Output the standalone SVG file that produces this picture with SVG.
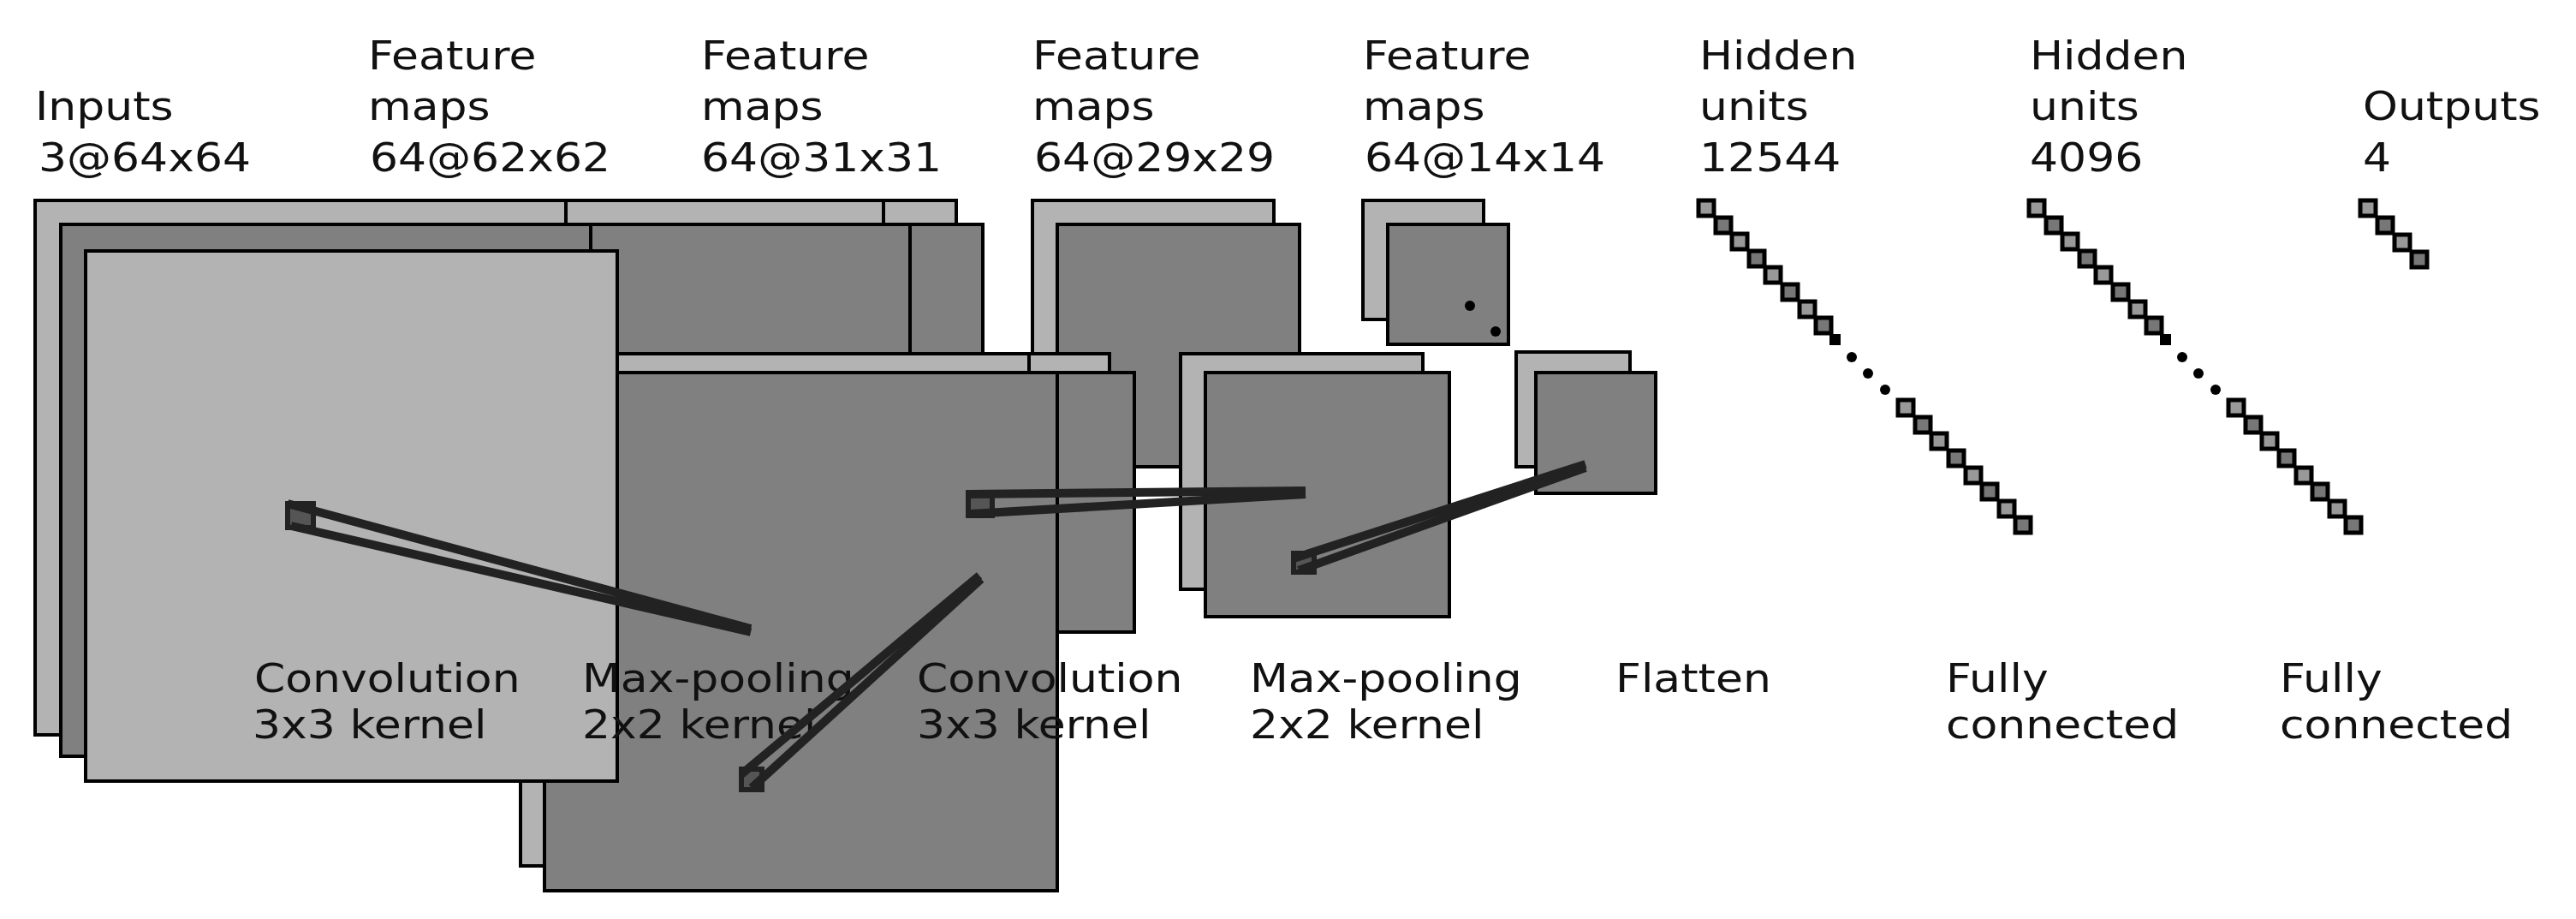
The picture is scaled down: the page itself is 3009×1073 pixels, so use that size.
<svg xmlns="http://www.w3.org/2000/svg" width="3009" height="1073" viewBox="0 0 3009 1073">
<style>
.l{fill:#b3b3b3;stroke:#000;stroke-width:4}
.d{fill:#808080;stroke:#000;stroke-width:4}
.u1{fill:#999;stroke:#000;stroke-width:5}
.u2{fill:#777;stroke:#000;stroke-width:5}
text{font-family:"DejaVu Sans",sans-serif;font-size:52px;fill:#111}
.k{stroke:#222;stroke-width:10;stroke-linecap:butt;fill:none}
.ks{fill:#555;stroke:#222;stroke-width:6}
</style>
<rect width="3009" height="1073" fill="#fff"/>
<g id="fm62">
<rect class="l" x="497" y="234" width="620" height="400"/>
<rect class="d" x="528" y="262" width="620" height="400"/>
<rect class="l" x="412" y="234" width="620" height="400"/>
<rect class="d" x="443" y="262" width="620" height="400"/>
</g>
<g id="fm29top">
<rect class="l" x="1206" y="234" width="282" height="283"/>
<rect class="d" x="1235" y="262" width="283" height="283"/>
</g>
<g id="fm14top">
<rect class="l" x="1592" y="234" width="141" height="139"/>
<rect class="d" x="1621" y="262" width="141" height="140"/>
<circle cx="1717" cy="357" r="6" fill="#000"/>
<circle cx="1747" cy="387" r="6" fill="#000"/>
</g>
<g id="fm31">
<rect class="l" x="1000" y="413" width="296" height="297"/>
<rect class="d" x="1030" y="435" width="295" height="303"/>
<rect class="l" x="608" y="413" width="594" height="598"/>
<rect class="d" x="636" y="435" width="599" height="605"/>
</g>
<g id="fm29low">
<rect class="l" x="1379" y="413" width="283" height="275"/>
<rect class="d" x="1408" y="435" width="285" height="285"/>
</g>
<g id="fm14low">
<rect class="l" x="1771" y="411" width="133" height="134"/>
<rect class="d" x="1794" y="435" width="140" height="141"/>
</g>
<g id="inputs">
<rect class="l" x="41" y="234" width="620" height="624"/>
<rect class="d" x="71" y="262" width="619" height="621"/>
<rect class="l" x="100" y="293" width="621" height="619"/>
</g>
<g id="hidden12544">
<rect class="u1" x="1984" y="234" width="18" height="18"/>
<rect class="u2" x="2004" y="254" width="18" height="18"/>
<rect class="u1" x="2023" y="273" width="18" height="18"/>
<rect class="u2" x="2043" y="293" width="18" height="18"/>
<rect class="u1" x="2062" y="312" width="18" height="18"/>
<rect class="u2" x="2082" y="332" width="18" height="18"/>
<rect class="u1" x="2102" y="352" width="18" height="18"/>
<rect class="u2" x="2121" y="371" width="18" height="18"/>
<rect x="2137" y="390" width="13" height="13" fill="#000"/>
<circle cx="2163" cy="417" r="6" fill="#000"/>
<circle cx="2182" cy="436" r="6" fill="#000"/>
<circle cx="2202" cy="455" r="6" fill="#000"/>
<rect class="u1" x="2217" y="467" width="18" height="18"/>
<rect class="u2" x="2237" y="487" width="18" height="18"/>
<rect class="u1" x="2256" y="506" width="18" height="18"/>
<rect class="u2" x="2276" y="526" width="18" height="18"/>
<rect class="u1" x="2296" y="546" width="18" height="18"/>
<rect class="u2" x="2315" y="565" width="18" height="18"/>
<rect class="u1" x="2335" y="585" width="18" height="18"/>
<rect class="u2" x="2354" y="604" width="18" height="18"/>
</g>
<g id="hidden4096" transform="translate(386,0)">
<rect class="u1" x="1984" y="234" width="18" height="18"/>
<rect class="u2" x="2004" y="254" width="18" height="18"/>
<rect class="u1" x="2023" y="273" width="18" height="18"/>
<rect class="u2" x="2043" y="293" width="18" height="18"/>
<rect class="u1" x="2062" y="312" width="18" height="18"/>
<rect class="u2" x="2082" y="332" width="18" height="18"/>
<rect class="u1" x="2102" y="352" width="18" height="18"/>
<rect class="u2" x="2121" y="371" width="18" height="18"/>
<rect x="2137" y="390" width="13" height="13" fill="#000"/>
<circle cx="2163" cy="417" r="6" fill="#000"/>
<circle cx="2182" cy="436" r="6" fill="#000"/>
<circle cx="2202" cy="455" r="6" fill="#000"/>
<rect class="u1" x="2217" y="467" width="18" height="18"/>
<rect class="u2" x="2237" y="487" width="18" height="18"/>
<rect class="u1" x="2256" y="506" width="18" height="18"/>
<rect class="u2" x="2276" y="526" width="18" height="18"/>
<rect class="u1" x="2296" y="546" width="18" height="18"/>
<rect class="u2" x="2315" y="565" width="18" height="18"/>
<rect class="u1" x="2335" y="585" width="18" height="18"/>
<rect class="u2" x="2354" y="604" width="18" height="18"/>
</g>
<g id="outputs">
<rect class="u1" x="2757" y="234" width="18" height="18"/>
<rect class="u2" x="2777" y="254" width="18" height="18"/>
<rect class="u1" x="2797" y="274" width="18" height="18"/>
<rect class="u2" x="2817" y="294" width="18" height="18"/>
</g>
<g id="labels" transform="scale(1,0.9)">
<text x="41" y="155.6">Inputs</text>
<text x="45" y="222.2">3@64x64</text>
<text x="430" y="90">Feature</text><text x="430" y="155.6">maps</text><text x="432" y="222.2">64@62x62</text>
<text x="819" y="90">Feature</text><text x="819" y="155.6">maps</text><text x="819" y="222.2">64@31x31</text>
<text x="1206" y="90">Feature</text><text x="1206" y="155.6">maps</text><text x="1208" y="222.2">64@29x29</text>
<text x="1592" y="90">Feature</text><text x="1592" y="155.6">maps</text><text x="1594" y="222.2">64@14x14</text>
<text x="1985" y="90">Hidden</text><text x="1985" y="155.6">units</text><text x="1985" y="222.2">12544</text>
<text x="2371" y="90">Hidden</text><text x="2371" y="155.6">units</text><text x="2371" y="222.2">4096</text>
<text x="2760" y="155.6">Outputs</text><text x="2760" y="222.2">4</text>
<text x="297" y="897.8">Convolution</text><text x="295" y="957.8">3x3 kernel</text>
<text x="680" y="897.8">Max-pooling</text><text x="680" y="957.8">2x2 kernel</text>
<text x="1071" y="897.8">Convolution</text><text x="1071" y="957.8">3x3 kernel</text>
<text x="1460" y="897.8">Max-pooling</text><text x="1460" y="957.8">2x2 kernel</text>
<text x="1887" y="897.8">Flatten</text>
<text x="2273" y="897.8">Fully</text><text x="2273" y="957.8">connected</text>
<text x="2663" y="897.8">Fully</text><text x="2663" y="957.8">connected</text>
</g>
<g id="connectors">
<rect class="ks" x="336" y="588" width="30" height="28"/>
<line class="k" x1="336" y1="588" x2="877" y2="734"/>
<line class="k" x1="340" y1="614" x2="877" y2="738"/>
<rect class="ks" x="866" y="898" width="24" height="24"/>
<line class="k" x1="866" y1="904" x2="1144" y2="672"/>
<line class="k" x1="878" y1="920" x2="1146" y2="676"/>
<rect class="ks" x="1131" y="575" width="28" height="27"/>
<line class="k" x1="1131" y1="577" x2="1525" y2="573"/>
<line class="k" x1="1134" y1="600" x2="1525" y2="577"/>
<rect class="ks" x="1511" y="646" width="24" height="22"/>
<line class="k" x1="1511" y1="652" x2="1852" y2="542"/>
<line class="k" x1="1517" y1="666" x2="1852" y2="546"/>
</g>
</svg>
